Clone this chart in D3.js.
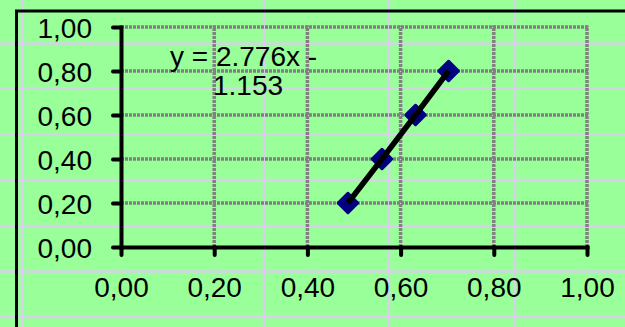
<!DOCTYPE html>
<html>
<head>
<meta charset="utf-8">
<script src="https://cdn.jsdelivr.net/npm/d3@7"></script>
<style>
html,body{margin:0;padding:0;background:#99ff99;}
svg{display:block;font-family:"Liberation Sans",Arial,sans-serif;}
</style>
</head>
<body>
<svg id="chart" width="625" height="327"></svg>
<script>
// ---- data ----
const xValues = [0.487, 0.560, 0.632, 0.703];
const yValues = [0.20, 0.40, 0.60, 0.80];
const xTicks = [0, 0.2, 0.4, 0.6, 0.8, 1.0];
const yTicks = [0, 0.2, 0.4, 0.6, 0.8, 1.0];
const equationLines = ["y = 2.776x -", "1.153"];

// ---- layout (background spreadsheet cells) ----
const cellCols = [22, 264, 389, 515];
const cellRows = [-2, 43.5, 88.5, 134.5, 180, 226, 271.5, 317];

const W = 625, H = 327;
const FONT = 28;
const svg = d3.select("#chart");

// spreadsheet cell lines
svg.append("g").selectAll("line.c").data(cellCols).join("line")
  .attr("x1", d => d).attr("x2", d => d).attr("y1", 0).attr("y2", H)
  .attr("stroke", "#d5d3e6").attr("stroke-width", 2.5);
svg.append("g").selectAll("line.r").data(cellRows).join("line")
  .attr("x1", 0).attr("x2", W).attr("y1", d => d).attr("y2", d => d)
  .attr("stroke", "#d5d3e6").attr("stroke-width", 2.5);

// chart frame (extends beyond the visible window)
svg.append("rect").attr("x", 16.5).attr("y", 11).attr("width", 700).attr("height", 400)
  .attr("fill", "none").attr("stroke", "#000").attr("stroke-width", 3);

const x = d3.scaleLinear().domain([0, 1]).range([121, 587]);
const y = d3.scaleLinear().domain([0, 1]).range([247, 27]);
const fmt = d => d3.format(".2f")(d).replace(".", ",");

// gridlines
const grid = svg.append("g");
grid.selectAll("line.gx").data(xTicks.slice(1)).join("line")
  .attr("x1", d => x(d)).attr("x2", d => x(d)).attr("y1", y(0)).attr("y2", y(1) - 1.5)
  .attr("stroke", "#808080").attr("stroke-width", 3.5).attr("stroke-dasharray", "3 1");
grid.selectAll("line.gy").data(yTicks.slice(1)).join("line")
  .attr("x1", x(0)).attr("x2", x(1) + 1.5).attr("y1", d => y(d)).attr("y2", d => y(d))
  .attr("stroke", "#808080").attr("stroke-width", 3.5).attr("stroke-dasharray", "3 1");

// axes
const xAxis = svg.append("g").attr("transform", `translate(0,${y(0)})`)
  .call(d3.axisBottom(x).tickValues(xTicks).tickFormat(fmt).tickSize(8).tickSizeOuter(0).tickPadding(22));
const yAxis = svg.append("g").attr("transform", `translate(${x(0)},0)`)
  .call(d3.axisLeft(y).tickValues(yTicks).tickFormat(fmt).tickSize(8).tickSizeOuter(0).tickPadding(21));
[xAxis, yAxis].forEach(a => {
  a.select(".domain").attr("stroke", "#000").attr("stroke-width", 4).attr("stroke-linecap", "square");
  a.selectAll(".tick line").attr("stroke", "#000").attr("stroke-width", 4).attr("stroke-linecap", "round");
  a.selectAll(".tick text").attr("fill", "#000").attr("font-size", FONT)
    .attr("font-family", "'Liberation Sans', Arial, sans-serif");
});
yAxis.selectAll(".tick text").attr("dy", "0.36em");

// series
const pts = xValues.map((v, i) => [v, yValues[i]]);
const lineGen = d3.line().x(d => x(d[0])).y(d => y(d[1]));

// markers
svg.append("g").selectAll("path.m").data(pts).join("path")
  .attr("d", d3.symbol(d3.symbolSquare, 200)())
  .attr("transform", d => `translate(${x(d[0])},${y(d[1])}) rotate(45)`)
  .attr("fill", "#000080").attr("stroke", "#000080").attr("stroke-width", 2.5)
  .attr("stroke-linejoin", "round");
// line drawn over the markers as in the reference
svg.append("path").datum(pts)
  .attr("d", lineGen)
  .attr("fill", "none").attr("stroke", "#000").attr("stroke-width", 5.5);

// trendline equation label
const eq = svg.append("text").attr("font-size", FONT).attr("fill", "#000");
eq.append("tspan").attr("x", 170).attr("y", 66).text(equationLines[0]);
eq.append("tspan").attr("x", 213).attr("y", 95).text(equationLines[1]);
</script>
</body>
</html>
